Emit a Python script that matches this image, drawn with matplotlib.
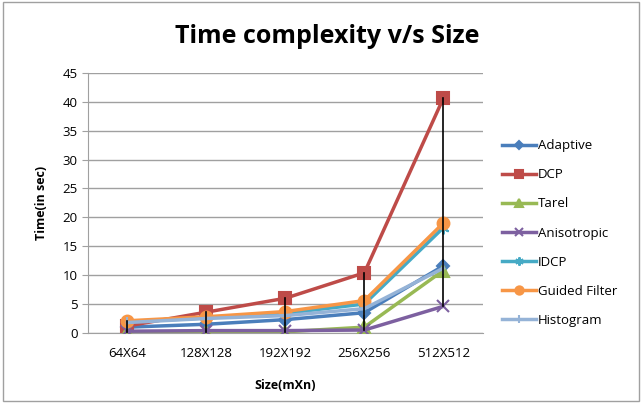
import matplotlib
matplotlib.use("Agg")
import matplotlib.pyplot as plt
from matplotlib.patches import Rectangle

categories = ["64X64", "128X128", "192X192", "256X256", "512X512"]
adaptive = [1.0, 1.5, 2.3, 3.5, 11.6]
dcp = [1.2, 3.6, 6.0, 10.4, 40.6]
tarel = [0.1, 0.1, 0.2, 1.0, 10.8]
anisotropic = [0.3, 0.4, 0.4, 0.5, 4.6]
idcp = [1.9, 2.6, 3.4, 5.0, 18.2]
guided = [2.1, 2.8, 3.7, 5.6, 19.0]
histogram = [1.8, 2.5, 3.0, 4.2, 11.2]

series = [
    ("Adaptive", adaptive, "#4A7EBB", "D", 6),
    ("DCP", dcp, "#BE4B48", "s", 8.5),
    ("Tarel", tarel, "#98B954", "^", 8.5),
    ("Anisotropic", anisotropic, "#7D60A0", "x", 8.5),
    ("IDCP", idcp, "#46AAC5", (6, 2, 0), 8.5),
    ("Guided Filter", guided, "#F79646", "o", 8.5),
    ("Histogram", histogram, "#95B3D7", "|", 8.5),
]

plt.rcParams['font.family'] = ['Open Sans', 'DejaVu Sans']
fig = plt.figure(figsize=(6.42, 4.07), dpi=100)
fig.patches.append(Rectangle((0.004, 0.015), 0.992, 0.98, transform=fig.transFigure,
                             fill=False, edgecolor="#A0A0A0", lw=1))
ax = fig.add_axes([0.137, 0.182, 0.615, 0.639])
x = list(range(len(categories)))

# high-low lines
for i in x:
    vals = [s[1][i] for s in series]
    ax.plot([i, i], [min(vals), max(vals)], color="black", lw=1.2, zorder=4)

for name, vals, col, mk, ms in series:
    ax.plot(x, vals, color=col, lw=2.5, marker=mk, markersize=ms, label=name,
            markeredgecolor=col, markerfacecolor=col, markeredgewidth=1.5, zorder=3)

ax.set_xlim(-0.5, 4.5)
ax.set_ylim(0, 45)
ax.set_yticks(range(0, 46, 5))
ax.set_xticks(x)
ax.set_xticklabels(categories)
ax.yaxis.grid(True, color="#A0A0A0", lw=1)
ax.set_axisbelow(True)
for sp in ["top", "right"]:
    ax.spines[sp].set_visible(False)
for sp in ["left", "bottom"]:
    ax.spines[sp].set_color("#A0A0A0")
ax.tick_params(axis="both", colors="#A0A0A0", labelcolor="black", labelsize=9.5, length=4)
ax.tick_params(axis="x", length=0, pad=10)
ax.set_xlabel("Size(mXn)", fontsize=9, fontweight="bold", labelpad=14)
ax.set_ylabel("Time(in sec)", fontsize=9, fontweight="bold", labelpad=10)
fig.text(0.51, 0.91, "Time complexity v/s Size", ha="center", va="center",
         fontsize=18, fontweight="bold")

leg = ax.legend(loc="upper left", bbox_to_anchor=(1.035, 0.765), frameon=False,
                fontsize=9.5, labelspacing=1.22, handlelength=2.6, handletextpad=0.15,
                markerscale=0.7, borderaxespad=0)

fig.savefig("out.png", dpi=100)
